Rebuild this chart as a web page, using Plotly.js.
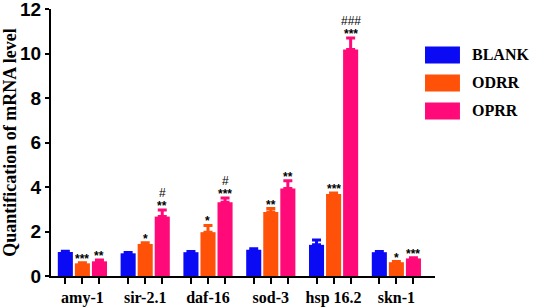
<!DOCTYPE html>
<html>
<head>
<meta charset="utf-8">
<script src="https://cdn.plot.ly/plotly-3.0.1.min.js"></script>
<style>html,body{margin:0;padding:0;background:#fff;}#chart{width:533px;height:308px;}</style>
</head>
<body>
<div id="chart"></div>
<script>
// ---- data ----
const genes = ['amy-1', 'sir-2.1', 'daf-16', 'sod-3', 'hsp 16.2', 'skn-1'];
const groups = ['BLANK', 'ODRR', 'OPRR'];
const blank = [1.08, 1.02, 1.07, 1.18, 1.40, 1.07];
const blankErr = [0.03, 0.04, 0.03, 0.05, 0.22, 0.03];
const odrr = [0.57, 1.44, 1.97, 2.88, 3.68, 0.62];
const odrrErr = [0.03, 0.05, 0.30, 0.15, 0.05, 0.03];
const oprr = [0.66, 2.67, 3.32, 3.93, 10.18, 0.79];
const oprrErr = [0.06, 0.30, 0.19, 0.35, 0.52, 0.03];
const odrrStars = ['***', '*', '*', '**', '***', '*'];
const oprrStars = ['**', '**', '***', '**', '***', '***'];
const oprrHash = ['', '#', '#', '', '###', ''];
const colors = ['#0a0af5', '#ff5208', '#ff0a78'];

// ---- layout helpers ----
const step = 0.2716, barW = 0.24;
const series = [blank, odrr, oprr];
const errs = [blankErr, odrrErr, oprrErr];
const stars = [genes.map(() => ''), odrrStars, oprrStars];
const hashes = [genes.map(() => ''), genes.map(() => ''), oprrHash];

const traces = series.map((vals, j) => ({
  type: 'bar',
  name: groups[j],
  x: genes.map((g, i) => i + (j - 1) * step),
  y: vals,
  width: barW,
  marker: {color: colors[j], line: {width: 0}},
  error_y: {type: 'data', symmetric: false, array: errs[j], arrayminus: vals.map(() => 0),
            color: colors[j], thickness: 3, width: 4.5},
  showlegend: false,
  hoverinfo: 'skip'
}));

const tickvals = [], ticktext = [];
genes.forEach((g, i) => {
  for (let j = 0; j < 3; j++) {
    tickvals.push(i + (j - 1) * step);
    ticktext.push(j === 1 ? g : '');
  }
});

const annotations = [];
series.forEach((vals, j) => {
  vals.forEach((v, i) => {
    const x = i + (j - 1) * step, y = v + errs[j][i];
    if (stars[j][i]) annotations.push({
      x: x, y: y, xref: 'x', yref: 'y', text: stars[j][i], showarrow: false,
      yanchor: 'bottom', xanchor: 'center', yshift: -5,
      font: {family: 'Liberation Sans', size: 12, color: '#000', weight: 'bold'}
    });
    if (hashes[j][i]) annotations.push({
      x: x, y: y, xref: 'x', yref: 'y', text: hashes[j][i], showarrow: false,
      yanchor: 'bottom', xanchor: 'center', yshift: 8,
      font: {family: 'Liberation Sans', size: 12, color: '#000'}
    });
  });
});

// legend (custom boxes + labels)
const shapes = [];
const legY = [0.828, 0.723, 0.618];
groups.forEach((g, j) => {
  shapes.push({type: 'rect', xref: 'paper', yref: 'paper',
    x0: 0.974, x1: 1.065, y0: legY[j] - 0.032, y1: legY[j] + 0.032,
    fillcolor: colors[j], line: {width: 0}});
  annotations.push({xref: 'paper', yref: 'paper', x: 1.091, y: legY[j],
    xanchor: 'left', yanchor: 'middle', showarrow: false, text: '<b>' + g + '</b>',
    font: {family: 'Liberation Serif', size: 16, color: '#000'}});
});

const layout = {
  width: 533, height: 308,
  margin: {l: 51, r: 98, t: 9, b: 32},
  paper_bgcolor: '#fff', plot_bgcolor: '#fff',
  barmode: 'overlay',
  xaxis: {
    range: [-0.5, 5.615], tickmode: 'array', tickvals: tickvals, ticktext: ticktext,
    showline: true, linecolor: '#000', linewidth: 2, ticks: 'outside', ticklen: 6,
    tickwidth: 2, tickcolor: '#000', showgrid: false, zeroline: false,
    tickfont: {family: 'Liberation Serif', size: 16, color: '#000', weight: 'bold'}
  },
  yaxis: {
    range: [0, 12], dtick: 2, showline: true, linecolor: '#000', linewidth: 2,
    ticks: 'outside', ticklen: 4, tickwidth: 2, tickcolor: '#000',
    showgrid: false, zeroline: false, ticklabeloverflow: 'allow',
    tickfont: {family: 'Liberation Sans', size: 19, color: '#000', weight: 'bold'},
    title: {text: 'Quantification of mRNA level', standoff: 5,
      font: {family: 'Liberation Serif', size: 18, color: '#000', weight: 'bold'}}
  },
  shapes: shapes,
  annotations: annotations,
  showlegend: false
};

Plotly.newPlot('chart', traces, layout, {displayModeBar: false, staticPlot: true});
</script>
</body>
</html>
